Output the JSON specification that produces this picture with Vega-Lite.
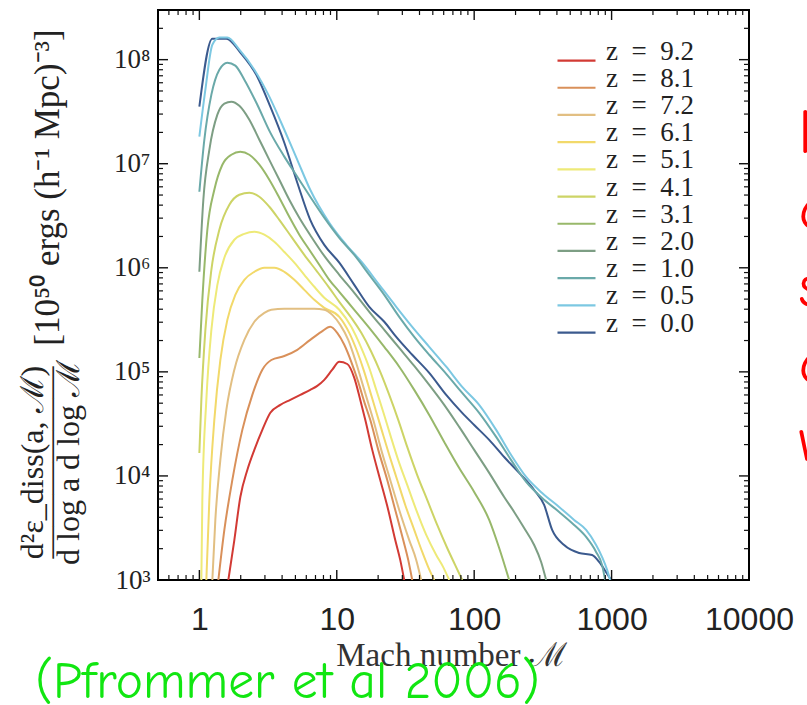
{
"$schema":"https://vega.github.io/schema/vega-lite/v6.json",
"autosize":{"type":"none"},
"padding":{"left":158,"top":10,"right":58,"bottom":125},
"width":591,"height":570,
"background":"white",
"config":{"view":{"stroke":"#000","strokeWidth":2},"axis":{"domain":false,"grid":false,"ticks":false,"labelColor":"#111","titleColor":"#111","titleFontWeight":"normal"}},
"resolve":{"axis":{"x":"independent","y":"independent"}},
"datasets":{
"xmaj":[{"v":1},{"v":10},{"v":100},{"v":1000}],
"xmin":[{"v":0.6},{"v":0.7},{"v":0.8},{"v":0.9},{"v":2},{"v":3},{"v":4},{"v":5},{"v":6},{"v":7},{"v":8},{"v":9},{"v":20},{"v":30},{"v":40},{"v":50},{"v":60},{"v":70},{"v":80},{"v":90},{"v":200},{"v":300},{"v":400},{"v":500},{"v":600},{"v":700},{"v":800},{"v":900},{"v":2000},{"v":3000},{"v":4000},{"v":5000},{"v":6000},{"v":7000},{"v":8000},{"v":9000}],
"ymaj":[{"v":10000},{"v":100000},{"v":1000000},{"v":10000000},{"v":100000000}],
"ymin":[{"v":2000},{"v":3000},{"v":4000},{"v":5000},{"v":6000},{"v":7000},{"v":8000},{"v":9000},{"v":20000},{"v":30000},{"v":40000},{"v":50000},{"v":60000},{"v":70000},{"v":80000},{"v":90000},{"v":200000},{"v":300000},{"v":400000},{"v":500000},{"v":600000},{"v":700000},{"v":800000},{"v":900000},{"v":2000000},{"v":3000000},{"v":4000000},{"v":5000000},{"v":6000000},{"v":7000000},{"v":8000000},{"v":9000000},{"v":20000000},{"v":30000000},{"v":40000000},{"v":50000000},{"v":60000000},{"v":70000000},{"v":80000000},{"v":90000000},{"v":200000000}]
},
"layer":[
{"data":{"values":[
{"z":"0.0","M":1,"E":3.53e7},{"z":"0.0","M":1.243,"E":1.59e8},{"z":"0.0","M":1.572,"E":1.59e8},{"z":"0.0","M":1.987,"E":1.17e8},{"z":"0.0","M":2.641,"E":6.86e7},{"z":"0.0","M":3.284,"E":3.53e7},{"z":"0.0","M":4.152,"E":1.59e7},{"z":"0.0","M":5.161,"E":6.57e6},{"z":"0.0","M":6.41,"E":2.89e6},{"z":"0.0","M":8.111,"E":1.66e6},{"z":"0.0","M":10.43,"E":1.12e6},{"z":"0.0","M":13.41,"E":6.86e5},{"z":"0.0","M":17.24,"E":4.22e5},{"z":"0.0","M":22.16,"E":3.03e5},{"z":"0.0","M":27.08,"E":2.17e5},{"z":"0.0","M":35.4,"E":1.46e5},{"z":"0.0","M":47.07,"E":9.78e4},{"z":"0.0","M":62.58,"E":6.01e4},{"z":"0.0","M":81.8,"E":4.04e4},{"z":"0.0","M":100,"E":3.09e4},{"z":"0.0","M":128.6,"E":2.22e4},{"z":"0.0","M":165.3,"E":1.52e4},{"z":"0.0","M":212.5,"E":1.07e4},{"z":"0.0","M":273.2,"E":7.33e3},{"z":"0.0","M":322.9,"E":5.26e3},{"z":"0.0","M":369.3,"E":3.03e3},{"z":"0.0","M":451.3,"E":2.17e3},{"z":"0.0","M":580.2,"E":1.82e3},{"z":"0.0","M":721.5,"E":1.74e3},{"z":"0.0","M":811.1,"E":1.49e3},{"z":"0.0","M":912,"E":1.19e3},{"z":"0.0","M":991.7,"E":1000},
{"z":"0.5","M":1,"E":1.82e7},{"z":"0.5","M":1.106,"E":5.15e7},{"z":"0.5","M":1.243,"E":1.39e8},{"z":"0.5","M":1.398,"E":1.63e8},{"z":"0.5","M":1.598,"E":1.63e8},{"z":"0.5","M":1.954,"E":1.25e8},{"z":"0.5","M":2.512,"E":8.01e7},{"z":"0.5","M":3.229,"E":4.41e7},{"z":"0.5","M":4.152,"E":2.12e7},{"z":"0.5","M":5.161,"E":1.09e7},{"z":"0.5","M":6.41,"E":5.62e6},{"z":"0.5","M":8.822,"E":2.71e6},{"z":"0.5","M":11.73,"E":1.66e6},{"z":"0.5","M":15.33,"E":1.12e6},{"z":"0.5","M":20.38,"E":6.86e5},{"z":"0.5","M":27.08,"E":4.22e5},{"z":"0.5","M":35.4,"E":2.71e5},{"z":"0.5","M":47.07,"E":1.74e5},{"z":"0.5","M":62.58,"E":1.12e5},{"z":"0.5","M":81.8,"E":7.17e4},{"z":"0.5","M":108.7,"E":4.82e4},{"z":"0.5","M":144.5,"E":2.77e4},{"z":"0.5","M":185.8,"E":1.59e4},{"z":"0.5","M":238.9,"E":9.78e3},{"z":"0.5","M":312.2,"E":6.86e3},{"z":"0.5","M":415.2,"E":5.03e3},{"z":"0.5","M":533.7,"E":3.78e3},{"z":"0.5","M":652.5,"E":3.03e3},{"z":"0.5","M":771.5,"E":2.17e3},{"z":"0.5","M":853,"E":1.66e3},{"z":"0.5","M":927.5,"E":1.25e3},{"z":"0.5","M":975.2,"E":1000},
{"z":"1.0","M":1,"E":5.38e6},{"z":"1.0","M":1.087,"E":1.7e7},{"z":"1.0","M":1.223,"E":4.61e7},{"z":"1.0","M":1.398,"E":8.01e7},{"z":"1.0","M":1.598,"E":9.36e7},{"z":"1.0","M":1.827,"E":8.76e7},{"z":"1.0","M":2.125,"E":6.42e7},{"z":"1.0","M":2.641,"E":3.69e7},{"z":"1.0","M":3.284,"E":1.99e7},{"z":"1.0","M":4.152,"E":1.17e7},{"z":"1.0","M":5.161,"E":7.5e6},{"z":"1.0","M":6.41,"E":4.82e6},{"z":"1.0","M":8.111,"E":3.03e6},{"z":"1.0","M":10.43,"E":1.94e6},{"z":"1.0","M":13.41,"E":1.33e6},{"z":"1.0","M":17.24,"E":8.56e5},{"z":"1.0","M":22.16,"E":5.5e5},{"z":"1.0","M":28.48,"E":3.38e5},{"z":"1.0","M":36.61,"E":2.17e5},{"z":"1.0","M":47.07,"E":1.46e5},{"z":"1.0","M":62.58,"E":9.57e4},{"z":"1.0","M":81.8,"E":6.28e4},{"z":"1.0","M":108.7,"E":4.04e4},{"z":"1.0","M":144.5,"E":2.37e4},{"z":"1.0","M":185.8,"E":1.42e4},{"z":"1.0","M":238.9,"E":8.76e3},{"z":"1.0","M":312.2,"E":6.14e3},{"z":"1.0","M":415.2,"E":4.51e3},{"z":"1.0","M":533.7,"E":3.38e3},{"z":"1.0","M":652.5,"E":2.59e3},{"z":"1.0","M":771.5,"E":1.86e3},{"z":"1.0","M":853,"E":1.39e3},{"z":"1.0","M":897,"E":1000},
{"z":"2.0","M":1,"E":9.15e5},{"z":"2.0","M":1.069,"E":4.51e6},{"z":"2.0","M":1.182,"E":1.36e7},{"z":"2.0","M":1.352,"E":2.96e7},{"z":"2.0","M":1.52,"E":3.78e7},{"z":"2.0","M":1.709,"E":3.95e7},{"z":"2.0","M":1.954,"E":3.61e7},{"z":"2.0","M":2.311,"E":2.65e7},{"z":"2.0","M":2.732,"E":1.7e7},{"z":"2.0","M":3.229,"E":1.09e7},{"z":"2.0","M":3.818,"E":7.02e6},{"z":"2.0","M":4.512,"E":4.51e6},{"z":"2.0","M":5.337,"E":3.03e6},{"z":"2.0","M":6.525,"E":1.99e6},{"z":"2.0","M":8.111,"E":1.3e6},{"z":"2.0","M":10.43,"E":8.56e5},{"z":"2.0","M":13.41,"E":5.75e5},{"z":"2.0","M":17.24,"E":3.78e5},{"z":"2.0","M":22.16,"E":2.53e5},{"z":"2.0","M":28.48,"E":1.7e5},{"z":"2.0","M":36.61,"E":1.14e5},{"z":"2.0","M":47.07,"E":7.5e4},{"z":"2.0","M":60.52,"E":4.82e4},{"z":"2.0","M":77.8,"E":2.96e4},{"z":"2.0","M":100,"E":1.78e4},{"z":"2.0","M":128.6,"E":1.07e4},{"z":"2.0","M":165.3,"E":6.28e3},{"z":"2.0","M":195.4,"E":4.51e3},{"z":"2.0","M":231,"E":3.16e3},{"z":"2.0","M":273.2,"E":2.17e3},{"z":"2.0","M":307.1,"E":1.49e3},{"z":"2.0","M":333.9,"E":1000},
{"z":"3.1","M":1,"E":1.36e5},{"z":"3.1","M":1.051,"E":4.92e5},{"z":"3.1","M":1.143,"E":2.32e6},{"z":"3.1","M":1.285,"E":5.62e6},{"z":"3.1","M":1.47,"E":9.78e6},{"z":"3.1","M":1.709,"E":1.22e7},{"z":"3.1","M":1.987,"E":1.3e7},{"z":"3.1","M":2.311,"E":1.22e7},{"z":"3.1","M":2.732,"E":9.78e6},{"z":"3.1","M":3.229,"E":7.02e6},{"z":"3.1","M":3.818,"E":4.71e6},{"z":"3.1","M":4.512,"E":3.09e6},{"z":"3.1","M":5.337,"E":2.08e6},{"z":"3.1","M":6.31,"E":1.49e6},{"z":"3.1","M":7.459,"E":1.07e6},{"z":"3.1","M":8.822,"E":7.67e5},{"z":"3.1","M":10.43,"E":5.88e5},{"z":"3.1","M":13.41,"E":3.95e5},{"z":"3.1","M":17.24,"E":2.65e5},{"z":"3.1","M":22.16,"E":1.74e5},{"z":"3.1","M":28.48,"E":1.12e5},{"z":"3.1","M":36.61,"E":6.71e4},{"z":"3.1","M":47.07,"E":3.86e4},{"z":"3.1","M":60.52,"E":2.12e4},{"z":"3.1","M":77.8,"E":1.19e4},{"z":"3.1","M":100,"E":7.02e3},{"z":"3.1","M":128.6,"E":3.78e3},{"z":"3.1","M":152,"E":2.03e3},{"z":"3.1","M":179.7,"E":1000},
{"z":"4.1","M":1,"E":1.66e4},{"z":"4.1","M":1.034,"E":5.38e4},{"z":"4.1","M":1.106,"E":2.53e5},{"z":"4.1","M":1.223,"E":9.57e5},{"z":"4.1","M":1.398,"E":2.32e6},{"z":"4.1","M":1.653,"E":4.03e6},{"z":"4.1","M":1.954,"E":5.03e6},{"z":"4.1","M":2.311,"E":5.26e6},{"z":"4.1","M":2.732,"E":4.82e6},{"z":"4.1","M":3.229,"E":3.86e6},{"z":"4.1","M":3.818,"E":2.89e6},{"z":"4.1","M":4.667,"E":1.99e6},{"z":"4.1","M":5.802,"E":1.33e6},{"z":"4.1","M":7.215,"E":9.15e5},{"z":"4.1","M":8.822,"E":6.42e5},{"z":"4.1","M":10.43,"E":4.71e5},{"z":"4.1","M":12.75,"E":3.31e5},{"z":"4.1","M":15.08,"E":2.37e5},{"z":"4.1","M":17.82,"E":1.56e5},{"z":"4.1","M":20.72,"E":1.0e5},{"z":"4.1","M":24.09,"E":6.01e4},{"z":"4.1","M":28.01,"E":3.46e4},{"z":"4.1","M":32.56,"E":1.9e4},{"z":"4.1","M":38.5,"E":1.02e4},{"z":"4.1","M":45.52,"E":5.88e3},{"z":"4.1","M":53.82,"E":3.38e3},{"z":"4.1","M":63.62,"E":2.03e3},{"z":"4.1","M":72.76,"E":1.39e3},{"z":"4.1","M":81.8,"E":1000},
{"z":"5.1","M":1.034,"E":1000},{"z":"5.1","M":1.051,"E":5.88e3},{"z":"5.1","M":1.124,"E":5.38e4},{"z":"5.1","M":1.223,"E":2.53e5},{"z":"5.1","M":1.352,"E":6.86e5},{"z":"5.1","M":1.52,"E":1.25e6},{"z":"5.1","M":1.797,"E":1.86e6},{"z":"5.1","M":2.125,"E":2.12e6},{"z":"5.1","M":2.512,"E":2.22e6},{"z":"5.1","M":2.97,"E":2.08e6},{"z":"5.1","M":3.511,"E":1.78e6},{"z":"5.1","M":4.152,"E":1.42e6},{"z":"5.1","M":4.909,"E":1.12e6},{"z":"5.1","M":5.802,"E":8.56e5},{"z":"5.1","M":6.861,"E":6.57e5},{"z":"5.1","M":8.111,"E":5.15e5},{"z":"5.1","M":10.43,"E":3.95e5},{"z":"5.1","M":12.75,"E":2.71e5},{"z":"5.1","M":15.08,"E":1.7e5},{"z":"5.1","M":17.24,"E":1.09e5},{"z":"5.1","M":19.38,"E":6.71e4},{"z":"5.1","M":21.79,"E":4.12e4},{"z":"5.1","M":24.5,"E":2.48e4},{"z":"5.1","M":28.01,"E":1.42e4},{"z":"5.1","M":32.56,"E":8.19e3},{"z":"5.1","M":37.86,"E":4.71e3},{"z":"5.1","M":44.77,"E":2.71e3},{"z":"5.1","M":52.92,"E":1.74e3},{"z":"5.1","M":59.51,"E":1.33e3},{"z":"5.1","M":65.8,"E":1000},
{"z":"6.1","M":1.124,"E":1000},{"z":"6.1","M":1.182,"E":5.88e3},{"z":"6.1","M":1.285,"E":3.46e4},{"z":"6.1","M":1.421,"E":1.3e5},{"z":"6.1","M":1.598,"E":3.16e5},{"z":"6.1","M":1.827,"E":5.5e5},{"z":"6.1","M":2.125,"E":7.67e5},{"z":"6.1","M":2.512,"E":9.15e5},{"z":"6.1","M":2.97,"E":1.0e6},{"z":"6.1","M":3.511,"E":1.0e6},{"z":"6.1","M":4.152,"E":9.15e5},{"z":"6.1","M":4.909,"E":7.67e5},{"z":"6.1","M":5.802,"E":6.14e5},{"z":"6.1","M":6.861,"E":4.92e5},{"z":"6.1","M":8.111,"E":4.12e5},{"z":"6.1","M":10.43,"E":3.38e5},{"z":"6.1","M":12.33,"E":2.37e5},{"z":"6.1","M":14.1,"E":1.56e5},{"z":"6.1","M":15.85,"E":1.0e5},{"z":"6.1","M":17.52,"E":6.42e4},{"z":"6.1","M":19.38,"E":4.12e4},{"z":"6.1","M":21.42,"E":2.65e4},{"z":"6.1","M":24.09,"E":1.59e4},{"z":"6.1","M":27.54,"E":9.15e3},{"z":"6.1","M":31.49,"E":5.26e3},{"z":"6.1","M":36.61,"E":3.03e3},{"z":"6.1","M":41.87,"E":1.86e3},{"z":"6.1","M":46.3,"E":1.33e3},{"z":"6.1","M":51.18,"E":1000},
{"z":"7.2","M":1.243,"E":1000},{"z":"7.2","M":1.307,"E":3.78e3},{"z":"7.2","M":1.421,"E":1.42e4},{"z":"7.2","M":1.572,"E":4.31e4},{"z":"7.2","M":1.797,"E":1.05e5},{"z":"7.2","M":2.125,"E":2.03e5},{"z":"7.2","M":2.512,"E":3.03e5},{"z":"7.2","M":2.97,"E":3.69e5},{"z":"7.2","M":3.339,"E":3.95e5},{"z":"7.2","M":4.152,"E":4.03e5},{"z":"7.2","M":5.337,"E":4.03e5},{"z":"7.2","M":6.861,"E":4.03e5},{"z":"7.2","M":8.111,"E":3.95e5},{"z":"7.2","M":9.275,"E":3.53e5},{"z":"7.2","M":10.6,"E":2.83e5},{"z":"7.2","M":12.12,"E":2.03e5},{"z":"7.2","M":13.63,"E":1.3e5},{"z":"7.2","M":15.08,"E":8.38e4},{"z":"7.2","M":16.67,"E":5.38e4},{"z":"7.2","M":18.43,"E":3.46e4},{"z":"7.2","M":21.07,"E":1.78e4},{"z":"7.2","M":24.5,"E":9.15e3},{"z":"7.2","M":28.48,"E":4.71e3},{"z":"7.2","M":33.67,"E":2.42e3},{"z":"7.2","M":37.86,"E":1.56e3},{"z":"7.2","M":41.17,"E":1000},
{"z":"8.1","M":1.375,"E":1000},{"z":"8.1","M":1.52,"E":3.03e3},{"z":"8.1","M":1.738,"E":9.15e3},{"z":"8.1","M":2.054,"E":2.77e4},{"z":"8.1","M":2.429,"E":6.01e4},{"z":"8.1","M":2.872,"E":1.05e5},{"z":"8.1","M":3.339,"E":1.3e5},{"z":"8.1","M":4.152,"E":1.42e5},{"z":"8.1","M":5.161,"E":1.63e5},{"z":"8.1","M":6.41,"E":2.03e5},{"z":"8.1","M":7.715,"E":2.42e5},{"z":"8.1","M":8.969,"E":2.71e5},{"z":"8.1","M":10.08,"E":2.37e5},{"z":"8.1","M":11.34,"E":1.82e5},{"z":"8.1","M":12.75,"E":1.25e5},{"z":"8.1","M":14.33,"E":8.01e4},{"z":"8.1","M":15.85,"E":5.15e4},{"z":"8.1","M":17.52,"E":3.46e4},{"z":"8.1","M":20.04,"E":1.78e4},{"z":"8.1","M":23.3,"E":9.15e3},{"z":"8.1","M":26.64,"E":4.71e3},{"z":"8.1","M":30.45,"E":2.42e3},{"z":"8.1","M":33.11,"E":1.56e3},{"z":"8.1","M":35.4,"E":1000},
{"z":"9.2","M":1.625,"E":1000},{"z":"9.2","M":1.797,"E":2.42e3},{"z":"9.2","M":1.987,"E":6.28e3},{"z":"9.2","M":2.234,"E":1.14e4},{"z":"9.2","M":2.512,"E":1.78e4},{"z":"9.2","M":2.872,"E":2.77e4},{"z":"9.2","M":3.284,"E":4.04e4},{"z":"9.2","M":3.883,"E":4.82e4},{"z":"9.2","M":4.589,"E":5.38e4},{"z":"9.2","M":5.427,"E":6.01e4},{"z":"9.2","M":6.41,"E":6.71e4},{"z":"9.2","M":7.215,"E":7.33e4},{"z":"9.2","M":8.111,"E":8.38e4},{"z":"9.2","M":9.275,"E":1.05e5},{"z":"9.2","M":10.43,"E":1.25e5},{"z":"9.2","M":11.92,"E":1.19e5},{"z":"9.2","M":13.41,"E":8.76e4},{"z":"9.2","M":14.83,"E":5.38e4},{"z":"9.2","M":16.12,"E":3.46e4},{"z":"9.2","M":18.12,"E":1.78e4},{"z":"9.2","M":20.72,"E":9.15e3},{"z":"9.2","M":23.69,"E":4.71e3},{"z":"9.2","M":26.64,"E":2.42e3},{"z":"9.2","M":28.96,"E":1.56e3},{"z":"9.2","M":30.96,"E":1000}
]},
"mark":{"type":"line","strokeWidth":2,"clip":true,"interpolate":"monotone"},
"encoding":{
"x":{"field":"M","type":"quantitative","scale":{"type":"log","domain":[0.5,10000],"nice":false},
"axis":{"orient":"bottom","values":[1,10,100,1000,10000],"format":"d","labelFont":"Liberation Sans","labelFontSize":32,"labelPadding":24,"labelBaseline":"top","labelFlush":false,"labelOverlap":false,"labelColor":"#222",
"title":"Mach number ℳ","titleFont":"Liberation Serif","titleFontSize":33,"titleX":293,"titleY":85,"titleAlign":"center","titleBaseline":"alphabetic","titleColor":"#333"}},
"y":{"field":"E","type":"quantitative","scale":{"type":"log","domain":[1000,3e8],"nice":false},
"axis":{"orient":"left","values":[1000,10000,100000,1000000,10000000,100000000],"labelExpr":"'10' + ['⁰','¹','²','³','⁴','⁵','⁶','⁷','⁸'][round(log(datum.value)/LN10)]","labelFont":"Liberation Serif","labelFontSize":27,"labelPadding":8,"labelFlush":false,"labelOverlap":false,"labelColor":"#222",
"title":["d²ε_diss(a, ℳ)","——————","d log a d log ℳ"],"titleFont":"Liberation Serif","titleFontSize":32,"titleLineHeight":18,"titleX":-126,"titleY":452,"titleAngle":-90,"titleAlign":"center","titleBaseline":"middle","titleColor":"#222"}},
"color":{"field":"z","type":"nominal","sort":null,
"scale":{"domain":["9.2","8.1","7.2","6.1","5.1","4.1","3.1","2.0","1.0","0.5","0.0"],"range":["#d23a34","#d9905a","#e2bf82","#f2d96a","#eeea78","#cdd466","#98b86a","#7d9e84","#6aa9a9","#7cc8e2","#3b5a8e"]},
"legend":{"orient":"none","legendX":405,"legendY":28,"title":null,"symbolType":"M-2,0.95H2","symbolSize":361,"symbolStrokeWidth":2.2,"labelExpr":"'z\u2002=\u2002' + datum.label","labelFont":"Liberation Serif","labelFontSize":27,"labelColor":"#222","labelOffset":16,"rowPadding":-0.8,"padding":0}}
}},
{"data":{"values":[{"M":1,"E":1000}]},"mark":{"type":"point","opacity":0},
"encoding":{
"x":{"field":"M","type":"quantitative","axis":{"orient":"bottom","values":[1],"labels":false,
"title":"(Pfrommer et al 2006)","titleFont":"Comic Sans MS, Comic Neue, DejaVu Sans","titleFontSize":51.5,"titleColor":"#11e611","titleX":129,"titleY":117,"titleAlign":"center","titleBaseline":"alphabetic"}},
"y":{"field":"E","type":"quantitative","axis":{"orient":"left","values":[1000],"labels":false,
"title":"[10⁵⁰ ergs (h⁻¹ Mpc)⁻³]","titleFont":"Liberation Serif","titleFontSize":35,"titleX":-111,"titleY":177,"titleAngle":-90,"titleAlign":"center","titleBaseline":"middle","titleColor":"#222"}}
}},
{"data":{"values":[{"M":1,"E":1000}]},"mark":{"type":"point","opacity":0},
"encoding":{
"x":{"field":"M","type":"quantitative","axis":{"orient":"top","values":[1],"labels":false,"title":null}},
"y":{"field":"E","type":"quantitative","axis":{"orient":"right","values":[1000],"labels":false,
"title":["b","c","s","c","w"],"titleFont":"Comic Sans MS, Comic Neue, DejaVu Sans","titleFontSize":62,"titleLineHeight":77,"titleColor":"#ff0000","titleX":49,"titleY":142,"titleAngle":0,"titleAlign":"left","titleBaseline":"alphabetic"}}
}},
{"data":{"name":"xmaj"},"mark":{"type":"tick","orient":"vertical","size":20,"thickness":1.4,"clip":true,"color":"#111","opacity":1},
"encoding":{"x":{"field":"v","type":"quantitative","axis":null},"y":{"datum":1000,"axis":null}}},
{"data":{"name":"xmin"},"mark":{"type":"tick","orient":"vertical","size":10,"thickness":1.2,"clip":true,"color":"#111","opacity":1},
"encoding":{"x":{"field":"v","type":"quantitative","axis":null},"y":{"datum":1000,"axis":null}}},
{"data":{"name":"xmaj"},"mark":{"type":"tick","orient":"vertical","size":20,"thickness":1.4,"clip":true,"color":"#111","opacity":1},
"encoding":{"x":{"field":"v","type":"quantitative","axis":null},"y":{"datum":300000000,"axis":null}}},
{"data":{"name":"xmin"},"mark":{"type":"tick","orient":"vertical","size":10,"thickness":1.2,"clip":true,"color":"#111","opacity":1},
"encoding":{"x":{"field":"v","type":"quantitative","axis":null},"y":{"datum":300000000,"axis":null}}},
{"data":{"name":"ymaj"},"mark":{"type":"tick","orient":"horizontal","size":20,"thickness":1.4,"clip":true,"color":"#111","opacity":1},
"encoding":{"y":{"field":"v","type":"quantitative","axis":null},"x":{"datum":0.5,"axis":null}}},
{"data":{"name":"ymin"},"mark":{"type":"tick","orient":"horizontal","size":10,"thickness":1.2,"clip":true,"color":"#111","opacity":1},
"encoding":{"y":{"field":"v","type":"quantitative","axis":null},"x":{"datum":0.5,"axis":null}}},
{"data":{"name":"ymaj"},"mark":{"type":"tick","orient":"horizontal","size":20,"thickness":1.4,"clip":true,"color":"#111","opacity":1},
"encoding":{"y":{"field":"v","type":"quantitative","axis":null},"x":{"datum":10000,"axis":null}}},
{"data":{"name":"ymin"},"mark":{"type":"tick","orient":"horizontal","size":10,"thickness":1.2,"clip":true,"color":"#111","opacity":1},
"encoding":{"y":{"field":"v","type":"quantitative","axis":null},"x":{"datum":10000,"axis":null}}}
]
}
